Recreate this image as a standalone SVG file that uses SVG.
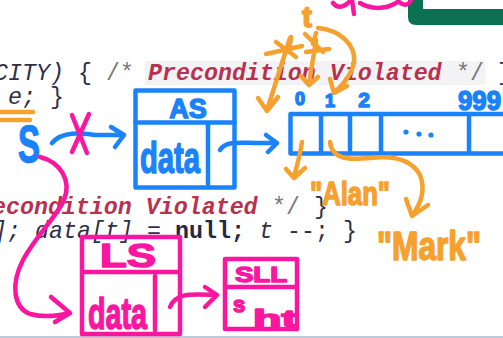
<svg xmlns="http://www.w3.org/2000/svg" width="503" height="338" viewBox="0 0 503 338">
<style>
.code{font-family:"Liberation Mono",monospace;font-size:23.3px;font-style:italic;fill:#2e3048}
.cm{fill:#7a7a7a;font-style:normal}
.pv{fill:#b8324f;font-weight:bold}
.nl{font-weight:bold;font-style:normal;fill:#252845}
.hw{font-family:"Liberation Sans",Arial,sans-serif;font-weight:bold;stroke-linejoin:round}
.b{stroke:#1a82fb;fill:none;stroke-width:4.5;stroke-linecap:round;stroke-linejoin:round}
.o{stroke:#f6a02d;fill:none;stroke-width:4.5;stroke-linecap:round;stroke-linejoin:round}
.p{stroke:#fb16a0;fill:none;stroke-width:4.5;stroke-linecap:round;stroke-linejoin:round}
.bt{fill:#1a82fb;stroke:#1a82fb;stroke-width:1.5}
.ot{fill:#f6a02d;stroke:#f6a02d;stroke-width:1.5}
.pt{fill:#fb16a0;stroke:#fb16a0;stroke-width:1.5}
</style>
<rect width="503" height="338" fill="#ffffff"/>
<g id="code">
<rect x="145" y="61" width="340" height="24" fill="#f3f3f5"/>
<text class="code" x="-6" y="80">CITY)</text>
<text class="code" x="78" y="80" style="font-style:normal">{</text>
<text class="code cm" x="106" y="80">/*</text>
<text class="code pv" x="148" y="80">Precondition Violated</text>
<text class="code cm" x="456" y="80">*/</text>
<text class="code" x="498" y="80" style="font-style:normal">}</text>
<text class="code" x="8" y="104">e;</text>
<text class="code" x="50" y="104" style="font-style:normal">}</text>
<text class="code pv" x="-36" y="214">Precondition Violated</text>
<text class="code cm" x="272" y="214">*/</text>
<text class="code" x="314" y="214" style="font-style:normal">}</text>
<text class="code" x="-7" y="238">];</text>
<text class="code" x="35" y="238">data[t]</text>
<text class="code" x="147" y="238" style="font-style:normal">=</text>
<text class="code nl" x="175" y="238">null;</text>
<text class="code" x="259" y="238">t</text>
<text class="code" x="287" y="238" style="font-style:normal">--;</text>
<text class="code" x="343" y="238" style="font-style:normal">}</text>
<line x1="0" y1="337" x2="503" y2="337" stroke="#aab8cc" stroke-width="1.5"/>
</g>
<g id="frame">
<path d="M408,0 L408,17 Q408,25 416,25 L503,25 L503,9 L423,9 L423,0 Z" fill="#0b7151"/>
</g>
<g id="top-scribble">
<path class="p" d="M333,3 C338,9 344,7 349,2 M352,0 L354,14 M360,3 C370,9 384,10 396,3 M398,1 C404,7 409,5 411,0"/>
</g>
<g id="var-S">
<text class="hw bt" x="18" y="162" font-size="52" textLength="22" lengthAdjust="spacingAndGlyphs">S</text>
</g>
<g id="node-AS">
<rect class="b" x="135.5" y="90.5" width="99" height="97"/>
<line class="b" x1="135.5" y1="122.5" x2="234.5" y2="122.5"/>
<line class="b" x1="208" y1="123" x2="208" y2="184"/>
<text class="hw bt" x="188" y="118" font-size="27" text-anchor="middle">AS</text>
<text class="hw bt" x="140" y="173" font-size="44" textLength="60" lengthAdjust="spacingAndGlyphs">data</text>
</g>
<g id="node-array">
<text class="hw bt" x="300" y="105" font-size="18" text-anchor="middle">0</text>
<text class="hw bt" x="330" y="107" font-size="18" text-anchor="middle">1</text>
<text class="hw bt" x="364" y="107" font-size="21" text-anchor="middle">2</text>
<text class="hw bt" x="458" y="110" font-size="27" textLength="43" lengthAdjust="spacingAndGlyphs">999</text>
<path class="b" d="M515,114 L290.5,114 L290.5,153.5 L515,153.5"/>
<line class="b" x1="321" y1="115" x2="321" y2="152"/>
<line class="b" x1="350" y1="115" x2="350" y2="150"/>
<line class="b" x1="381" y1="115" x2="381" y2="152"/>
<line class="b" x1="469" y1="115" x2="469" y2="151"/>
<circle cx="406" cy="132" r="2.6" fill="#1a82fb"/>
<circle cx="419" cy="134" r="2.6" fill="#1a82fb"/>
<circle cx="431" cy="135" r="2.6" fill="#1a82fb"/>
</g>
<g id="var-t">
<text class="hw ot" x="307" y="27" font-size="30" text-anchor="middle">t</text>
<path class="o" d="M276,42 L296,57 M266,54 L302,46 M291,37 L289,52"/>
<path class="o" d="M305,34 L323,52 M306,52 L329,49 M316,33 L313,44"/>
</g>
<g id="node-Alan">
<text class="hw ot" x="310" y="205" font-size="34" textLength="80" lengthAdjust="spacingAndGlyphs">"Alan"</text>
</g>
<g id="node-Mark">
<text class="hw ot" x="377" y="260" font-size="40" textLength="104" lengthAdjust="spacingAndGlyphs">"Mark"</text>
</g>
<g id="node-LS">
<rect class="p" x="82" y="237" width="98" height="97"/>
<line class="p" x1="82" y1="272" x2="180" y2="272"/>
<line class="p" x1="155" y1="276" x2="155" y2="330"/>
<text class="hw pt" x="128" y="267" font-size="33" text-anchor="middle" textLength="56" lengthAdjust="spacingAndGlyphs">LS</text>
<text class="hw pt" x="88" y="329" font-size="44" textLength="59" lengthAdjust="spacingAndGlyphs">data</text>
</g>
<g id="node-SLL">
<rect class="p" x="225" y="259" width="72" height="70"/>
<line class="p" x1="225" y1="287" x2="297" y2="287"/>
<text class="hw pt" x="235" y="282" font-size="22" textLength="52" lengthAdjust="spacingAndGlyphs">SLL</text>
<text class="hw pt" x="233" y="312" font-size="22">s</text>
<text class="hw pt" x="253" y="327" font-size="24" textLength="44" lengthAdjust="spacingAndGlyphs">ht</text>
</g>
<g id="connectors">
<path class="o" d="M0,112 L33,112 M0,120 L30,120"/>
<path class="b" d="M52,143 C62,131 80,133 95,135 L124,135 M111,127 L124,135 L115,147"/>
<path class="p" d="M72,115 L87,153 M89,114 L72,152"/>
<path class="b" d="M220,150 C226,140 242,143 258,143 L277,143 M266,135 L277,143 L268,152"/>
<path class="o" d="M290,38 L267,110 M258,98 L267,111 L278,97"/>
<path class="o" d="M316,40 C314,55 311,70 309,84 M301,76 L309,85 L318,77"/>
<path class="o" d="M318,28 C340,30 356,45 354,62 C352,75 342,85 335,92 M330,79 L334,93 L347,86"/>
<path class="o" d="M302,142 C300,155 297,166 294,177 M286,169 L294,178 L305,168"/>
<path class="o" d="M330,142 C332,160 350,160 370,158 C395,155 412,160 420,175 C426,190 420,205 412,216 M406,199 L412,216 L428,205"/>
<path class="p" d="M40,157 C60,162 72,180 64,200 C57,216 36,236 23,260 C10,285 14,308 30,314 C45,318 58,316 70,313 M51,297 L70,313 L55,322"/>
<path class="p" d="M170,307 C176,292 192,294 217,295 M205,287 L217,295 L205,307"/>
</g>
</svg>
